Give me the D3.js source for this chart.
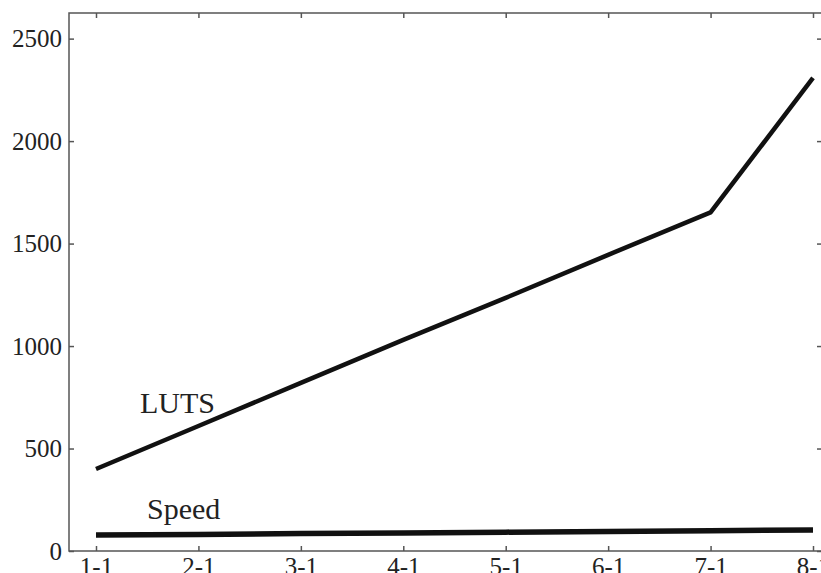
<!DOCTYPE html>
<html>
  <head>
    <meta charset="utf-8">
    <title>LUTS and Speed</title>
    <script src="https://cdn.jsdelivr.net/npm/d3@7"></script>
    <style>
      body { margin: 0; background: #fff; }
      svg { display: block; }
      text { font-family: "Liberation Serif", "Times New Roman", serif; fill: #222; }
    </style>
  </head>
  <body>
    <script type="text/javascript">
      // data
      var categories = ["1-1", "2-1", "3-1", "4-1", "5-1", "6-1", "7-1", "8-1"];
      var luts = [400, 610, 820, 1030, 1235, 1445, 1652, 2308];
      var speed = [78, 81, 85, 88, 92, 95, 99, 103];
      var yTicks = [0, 500, 1000, 1500, 2000, 2500];

      var w = 821
      var h = 573
      // plot frame (right edge falls just outside the window, like the original)
      var frameLeft = 69, frameRight = 822, frameTop = 13, frameBottom = 551;

      var svg = d3.select("body").append("svg")
                  .attr("width", w)
                  .attr("height", h);

      var x = d3.scalePoint()
                .domain(categories)
                .range([96, 813]);
      var y = d3.scaleLinear()
                .domain([0, 2625])
                .range([frameBottom, frameTop]);

      // frame
      svg.append("rect")
         .attr("x", frameLeft)
         .attr("y", frameTop)
         .attr("width", frameRight - frameLeft)
         .attr("height", frameBottom - frameTop)
         .attr("fill", "none")
         .attr("stroke", "#555")
         .attr("stroke-width", 1.5);

      // axes, ticks pointing inward
      var xAxis = svg.append("g")
                     .attr("transform", "translate(0," + frameBottom + ")")
                     .call(d3.axisBottom(x).tickSizeInner(-5).tickSizeOuter(0).tickPadding(6));
      var xTop = svg.append("g")
                    .attr("transform", "translate(0," + frameTop + ")")
                    .call(d3.axisTop(x).tickSizeInner(-5).tickSizeOuter(0).tickFormat(""));
      var yAxis = svg.append("g")
                     .attr("transform", "translate(" + frameLeft + ",0)")
                     .call(d3.axisLeft(y).tickValues(yTicks).tickFormat(d3.format("d"))
                             .tickSizeInner(-5).tickSizeOuter(0).tickPadding(7));
      var yRight = svg.append("g")
                      .attr("transform", "translate(" + frameRight + ",0)")
                      .call(d3.axisRight(y).tickValues(yTicks).tickSizeInner(-5).tickSizeOuter(0).tickFormat(""));

      [xAxis, xTop, yAxis, yRight].forEach(function(g) {
        g.select(".domain").remove();
        g.selectAll(".tick line").attr("stroke", "#555").attr("stroke-width", 1.5);
        g.selectAll("text")
         .style("font-family", "'Liberation Serif', 'Times New Roman', serif")
         .style("font-size", "25px")
         .attr("fill", "#222");
      });

      // lines
      var line = d3.line()
                   .x(function(d, i) { return x(categories[i]); })
                   .y(function(d) { return y(d); });

      svg.append("path")
         .datum(luts)
         .attr("d", line)
         .attr("fill", "none")
         .attr("stroke", "#111")
         .attr("stroke-width", 4.5);

      svg.append("path")
         .datum(speed)
         .attr("d", line)
         .attr("fill", "none")
         .attr("stroke", "#111")
         .attr("stroke-width", 5.5);

      // labels
      svg.append("text")
         .attr("x", 140)
         .attr("y", 413)
         .style("font-size", "30px")
         .text("LUTS");
      svg.append("text")
         .attr("x", 147)
         .attr("y", 519)
         .style("font-size", "30px")
         .text("Speed");
    </script>
  </body>
</html>
